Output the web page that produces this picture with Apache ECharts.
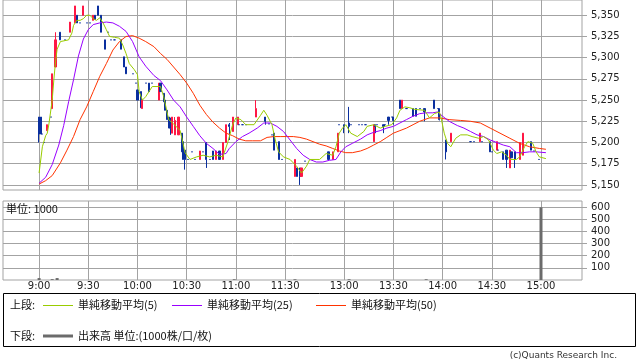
<!DOCTYPE html>
<html><head><meta charset="utf-8">
<script src="https://cdn.jsdelivr.net/npm/echarts@6/dist/echarts.min.js"></script>
<style>html,body{margin:0;padding:0;background:#fff}#c{width:638px;height:362px}</style>
</head><body><div id="c"></div>
<script>
// ---- data (slot = trading minute index: 9:00 = 0 ... 11:30 = 150, 12:30 = 156 ... 15:00 = 306)
const tickLabels = ['9:00','9:30','10:00','10:30','11:00','11:30','13:00','13:30','14:00','14:30','15:00'];
const priceTicks = [5150,5175,5200,5225,5250,5275,5300,5325,5350];
const volumeTicks = [100,200,300,400,500,600];

// [slot, open, close, low, high]
const candles = [
 [0,5230,5210,5200,5230],[1,5230,5210,5210,5230],[2,5210,5210,5210,5210],[3,5200,5200,5200,5200],
 [5,5214,5221,5214,5221],[7,5230,5230,5230,5230],[8,5240,5281,5240,5281],[10,5289,5321,5289,5330],
 [13,5330,5321,5321,5330],[16,5321,5321,5321,5321],[19,5330,5342,5330,5342],[22,5341,5361,5341,5361],
 [23,5350,5341,5341,5350],[25,5341,5341,5341,5341],[27,5350,5361,5350,5361],[29,5341,5341,5341,5341],
 [31,5341,5341,5341,5341],[33,5344,5350,5344,5350],[34,5350,5345,5345,5350],[36,5361,5350,5350,5361],
 [38,5350,5330,5330,5350],[40,5321,5310,5310,5321],[42,5330,5330,5330,5330],[44,5321,5321,5321,5321],
 [46,5321,5321,5321,5321],[50,5321,5310,5310,5321],[52,5301,5289,5289,5301],[53,5289,5281,5281,5289],
 [57,5281,5281,5281,5281],[59,5270,5270,5270,5270],[60,5262,5250,5250,5262],[62,5260,5241,5241,5260],
 [63,5240,5250,5240,5250],[65,5270,5270,5270,5270],[67,5270,5260,5260,5270],[69,5270,5270,5270,5270],
 [73,5250,5270,5250,5270],[74,5270,5260,5260,5270],[76,5258,5248,5248,5258],[77,5250,5238,5238,5250],
 [78,5238,5227,5227,5238],[79,5230,5217,5217,5230],[80,5229,5217,5209,5229],[81,5211,5230,5211,5230],
 [83,5209,5226,5209,5230],[85,5209,5230,5209,5230],[87,5211,5189,5189,5211],[88,5201,5180,5180,5201],
 [89,5191,5180,5168,5191],[91,5180,5180,5180,5180],[93,5189,5189,5189,5189],[95,5180,5180,5180,5180],
 [98,5180,5190,5180,5190],[100,5189,5189,5189,5189],[102,5200,5180,5170,5200],[104,5180,5180,5180,5180],
 [106,5190,5180,5180,5190],[108,5180,5190,5180,5190],[110,5190,5180,5180,5190],[112,5180,5200,5180,5200],
 [114,5200,5221,5200,5221],[116,5221,5219,5203,5223],[118,5213,5230,5213,5230],[121,5221,5230,5221,5230],
 [122,5221,5221,5221,5221],[124,5221,5221,5221,5221],[126,5221,5221,5221,5221],[132,5230,5240,5230,5250],
 [138,5230,5225,5221,5230],[140,5222,5222,5222,5222],[142,5209,5209,5209,5209],[143,5211,5191,5191,5211],
 [146,5201,5180,5180,5201],[148,5180,5180,5180,5180],
 [156,5160,5180,5160,5180],[157,5170,5160,5160,5170],[159,5170,5160,5150,5170],[160,5160,5170,5160,5170],
 [162,5178,5178,5178,5178],[176,5189,5180,5180,5189],[177,5189,5180,5180,5189],[179,5180,5189,5180,5189],
 [182,5189,5211,5189,5211],[183,5221,5221,5221,5221],[186,5221,5219,5211,5221],[189,5223,5219,5211,5242],
 [190,5221,5221,5221,5221],[195,5221,5221,5221,5221],[197,5221,5221,5221,5221],[199,5221,5221,5221,5221],
 [204,5201,5221,5201,5221],[205,5221,5219,5211,5221],[206,5221,5221,5221,5221],[210,5221,5219,5211,5221],
 [211,5221,5221,5221,5221],[213,5230,5226,5221,5230],[215,5230,5230,5230,5230],[216,5230,5226,5221,5230],
 [220,5250,5240,5240,5250],[221,5240,5250,5240,5250],[224,5240,5240,5240,5240],[228,5240,5231,5231,5240],
 [230,5240,5231,5231,5240],[232,5240,5240,5240,5240],[235,5240,5236,5225,5240],[241,5250,5240,5240,5250],
 [243,5240,5240,5240,5240],[244,5240,5227,5226,5240],[248,5203,5189,5180,5203],[251,5201,5211,5201,5211],
 [263,5201,5201,5201,5201],[265,5201,5201,5201,5201],[269,5201,5211,5201,5211],[270,5201,5201,5201,5201],
 [275,5201,5189,5189,5201],[276,5189,5189,5189,5189],[279,5191,5201,5191,5201],[280,5191,5191,5191,5191],
 [283,5189,5180,5180,5189],[285,5191,5180,5170,5191],[287,5170,5191,5170,5191],[288,5189,5182,5182,5189],
 [290,5189,5180,5170,5189],[293,5180,5200,5180,5200],[295,5185,5211,5185,5211],[300,5201,5191,5191,5201],
 [302,5190,5190,5190,5190],[305,5180,5180,5180,5180]
];

// [slot, volume (1000 shares)]
const volumes = [[0,16],[8,7],[11,16],[119,6],[156,6],[189,6],[236,6],[306,598]];

// moving averages: [slot, value]
const ma5 = [[0,5164],[2,5195],[4,5208],[5,5211],[6,5222],[8,5250],[9,5274],[10,5295],[11,5310],[13,5319],[14,5321],[18,5321],[20,5329],[21,5338],[23,5344],[25,5344],[27,5346],[29,5350],[31,5350],[33,5346],[35,5344],[37,5347],[38,5346],[39,5341],[41,5333],[43,5325],[46,5324],[49,5323],[51,5315],[53,5305],[55,5293],[58,5286],[60,5280],[61,5260],[63,5250],[65,5254],[67,5260],[69,5266],[74,5266],[76,5254],[79,5227],[82,5222],[86,5214],[89,5188],[92,5180],[96,5183],[100,5185],[104,5183],[108,5185],[112,5183],[115,5200],[118,5221],[120,5229],[123,5227],[126,5221],[131,5221],[135,5232],[137,5238],[139,5232],[142,5221],[144,5203],[146,5189],[149,5183],[153,5180],[157,5172],[160,5164],[163,5172],[165,5180],[171,5180],[175,5187],[179,5185],[181,5195],[183,5211],[185,5217],[187,5221],[190,5211],[194,5207],[198,5213],[200,5219],[204,5221],[208,5217],[211,5219],[215,5221],[218,5229],[220,5238],[223,5242],[226,5241],[229,5239],[235,5238],[238,5229],[241,5234],[244,5236],[245,5230],[247,5211],[249,5199],[251,5195],[254,5205],[257,5209],[261,5209],[264,5207],[268,5205],[271,5207],[274,5203],[277,5191],[279,5187],[282,5189],[285,5185],[287,5180],[291,5180],[293,5183],[296,5195],[298,5201],[301,5199],[303,5189],[305,5183],[309,5181]];
const ma25 = [[0,5152],[4,5159],[8,5174],[12,5197],[15,5220],[18,5248],[21,5274],[24,5302],[27,5322],[30,5333],[33,5339],[37,5341],[41,5342],[45,5341],[49,5337],[53,5331],[57,5319],[61,5301],[65,5290],[70,5279],[74,5273],[78,5262],[82,5250],[86,5242],[90,5230],[94,5219],[98,5208],[102,5199],[106,5193],[110,5186],[114,5187],[116,5193],[120,5201],[124,5207],[128,5211],[133,5217],[137,5223],[141,5223],[145,5219],[149,5213],[153,5203],[157,5193],[161,5185],[165,5180],[169,5177],[173,5177],[177,5179],[181,5180],[184,5189],[187,5195],[191,5199],[196,5204],[200,5209],[204,5212],[208,5214],[212,5217],[216,5219],[220,5223],[224,5227],[228,5231],[232,5234],[236,5235],[240,5235],[243,5236],[246,5231],[250,5225],[255,5220],[259,5217],[263,5213],[267,5209],[271,5207],[275,5203],[279,5200],[283,5197],[287,5195],[291,5188],[295,5188],[299,5189],[303,5189],[309,5188]];
const ma50 = [[0,5151],[4,5155],[8,5161],[13,5176],[17,5191],[21,5207],[25,5227],[29,5242],[33,5260],[37,5278],[41,5293],[45,5309],[49,5319],[53,5325],[57,5326],[61,5323],[65,5319],[70,5313],[74,5305],[78,5298],[82,5289],[86,5280],[90,5270],[94,5258],[98,5244],[102,5233],[106,5224],[110,5217],[114,5211],[118,5208],[122,5204],[126,5202],[130,5202],[135,5202],[139,5206],[143,5207],[147,5207],[151,5207],[155,5207],[159,5206],[163,5204],[167,5201],[171,5198],[175,5196],[179,5193],[183,5190],[187,5188],[191,5188],[196,5190],[200,5193],[204,5197],[208,5201],[212,5206],[216,5211],[220,5214],[224,5217],[228,5221],[232,5225],[238,5229],[244,5229],[250,5227],[257,5226],[263,5225],[269,5223],[275,5217],[281,5211],[287,5205],[293,5199],[299,5195],[305,5193],[309,5192]];

// ---- build
const PAD = 22, N = 354;
const UP = '#ff1744', DOWN = '#0a2f9e', GRID = '#a3a3a3';
function slotTime(s){
  let m;
  if (s >= 0 && s <= 150) m = s; else if (s >= 156 && s <= 306) m = s + 54; else return '';
  const h = 9 + Math.floor(m/60), mm = m % 60;
  return h + ':' + (mm < 10 ? '0' : '') + mm;
}
const categories = [];
for (let k = 0; k < N; k++) categories.push(slotTime(k - PAD));
const tickSet = new Set(tickLabels);
const isTick = (i, v) => tickSet.has(v);

const candleData = new Array(N).fill('-');
candles.forEach(([s,o,c,l,h]) => {
  const item = {value:[o, c, Math.min(l,o,c), Math.max(h,o,c)]};
  if (o === c) item.itemStyle = {color: DOWN, color0: DOWN, borderColor: DOWN, borderColor0: DOWN};
  candleData[s + PAD] = item;
});
const shift = arr => arr.map(([s,v]) => [s + PAD, v]);
const fmt = v => String(v).replace(/\B(?=(\d{3})+(?!\d))/g, ',');
const LAT = 'DejaVu Sans', JP = '"Noto Sans CJK JP"';

const chart = echarts.init(document.getElementById('c'), null, {renderer:'canvas'});
const option = {
  animation: false,
  backgroundColor: '#fff',
  grid: [
    {left:3, top:0, width:579, height:190, show:true, borderColor:GRID, borderWidth:1, containLabel:false, outerBoundsMode:'none'},
    {left:3, top:201, width:579, height:79, show:true, borderColor:GRID, borderWidth:1, containLabel:false, outerBoundsMode:'none'}
  ],
  xAxis: [
    {type:'category', gridIndex:0, data:categories, boundaryGap:false,
     axisLine:{show:false}, axisTick:{show:false}, axisLabel:{show:false},
     splitLine:{show:true, interval:isTick, lineStyle:{color:GRID, width:1}}},
    {type:'category', gridIndex:1, data:categories, boundaryGap:false,
     axisLine:{show:false}, axisTick:{show:false},
     axisLabel:{show:true, interval:isTick, color:'#222', fontFamily:LAT, fontSize:10, margin:1},
     splitLine:{show:true, interval:isTick, lineStyle:{color:GRID, width:1}}}
  ],
  yAxis: [
    {type:'value', gridIndex:0, position:'right', min:5144, max:5368, scale:true,
     axisLine:{show:false},
     axisTick:{show:true, customValues:priceTicks, length:5, lineStyle:{color:GRID}},
     axisLabel:{customValues:priceTicks, formatter:fmt, color:'#222', fontFamily:LAT, fontSize:10, margin:9},
     splitLine:{show:true, lineStyle:{color:GRID, width:1}}},
    {type:'value', gridIndex:1, position:'right', min:0, max:650,
     axisLine:{show:false},
     axisTick:{show:true, customValues:volumeTicks, length:5, lineStyle:{color:GRID}},
     axisLabel:{customValues:volumeTicks, color:'#222', fontFamily:LAT, fontSize:10, margin:9},
     splitLine:{show:true, lineStyle:{color:GRID, width:1}}}
  ],
  series: [
    {type:'candlestick', xAxisIndex:0, yAxisIndex:0, data:candleData, barWidth:1.6, z:3,
     itemStyle:{color:UP, color0:DOWN, borderColor:UP, borderColor0:DOWN, borderColorDoji:DOWN, borderWidth:1}},
    {type:'line', xAxisIndex:0, yAxisIndex:0, data:shift(ma50), showSymbol:false, symbol:'none', z:4,
     lineStyle:{color:'#ff3300', width:1}},
    {type:'line', xAxisIndex:0, yAxisIndex:0, data:shift(ma25), showSymbol:false, symbol:'none', z:5,
     lineStyle:{color:'#9900ff', width:1}},
    {type:'line', xAxisIndex:0, yAxisIndex:0, data:shift(ma5), showSymbol:false, symbol:'none', z:6,
     lineStyle:{color:'#99cc00', width:1}},
    {type:'bar', xAxisIndex:1, yAxisIndex:1, data:shift(volumes), barWidth:3, z:3,
     itemStyle:{color:'#6b6b6b'}}
  ],
  graphic: [
    {type:'text', left:6, top:203, z:10, style:{text:'単位: 1000', fill:'#111', font:'11px ' + JP}},
    {type:'rect', shape:{x:3.5, y:293.5, width:632, height:53}, style:{fill:'none', stroke:'#000', lineWidth:1}, z:10},
    {type:'text', x:10, y:305, z:10, style:{text:'上段:', fill:'#111', font:'11px ' + JP, verticalAlign:'middle'}},
    {type:'line', shape:{x1:43, y1:305.5, x2:73, y2:305.5}, style:{stroke:'#99cc00', lineWidth:1}, z:10},
    {type:'text', x:78, y:305, z:10, style:{text:'単純移動平均(5)', fill:'#111', font:'11px ' + JP, verticalAlign:'middle'}},
    {type:'line', shape:{x1:172, y1:305.5, x2:202, y2:305.5}, style:{stroke:'#9900ff', lineWidth:1}, z:10},
    {type:'text', x:207, y:305, z:10, style:{text:'単純移動平均(25)', fill:'#111', font:'11px ' + JP, verticalAlign:'middle'}},
    {type:'line', shape:{x1:316, y1:305.5, x2:346, y2:305.5}, style:{stroke:'#ff3300', lineWidth:1}, z:10},
    {type:'text', x:351, y:305, z:10, style:{text:'単純移動平均(50)', fill:'#111', font:'11px ' + JP, verticalAlign:'middle'}},
    {type:'text', x:10, y:336, z:10, style:{text:'下段:', fill:'#111', font:'11px ' + JP, verticalAlign:'middle'}},
    {type:'line', shape:{x1:43, y1:336, x2:73, y2:336}, style:{stroke:'#6b6b6b', lineWidth:3}, z:10},
    {type:'text', x:78, y:336, z:10, style:{text:'出来高 単位:(1000株/口/枚)', fill:'#111', font:'11px ' + JP, verticalAlign:'middle'}},
    {type:'text', x:617, y:356, z:10, style:{text:'(c)Quants Research Inc.', fill:'#333', font:'9px ' + LAT, align:'right', verticalAlign:'middle'}}
  ]
};
chart.setOption(option);
</script>
</body></html>
